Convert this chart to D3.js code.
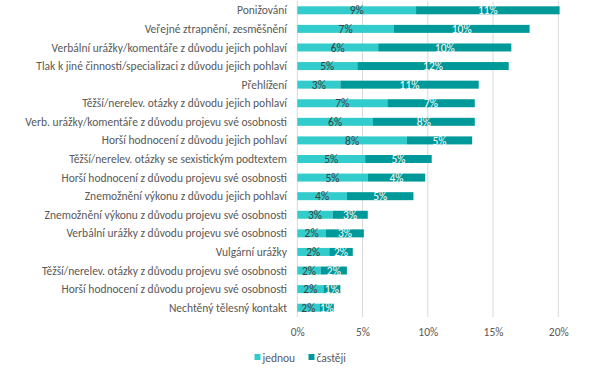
<!DOCTYPE html>
<html><head><meta charset="utf-8">
<script src="https://cdn.jsdelivr.net/npm/d3@7"></script>
<style>body{margin:0;background:#fff}svg{display:block}</style>
</head><body>
<svg id="c" width="598" height="368"></svg>
<script>
const categories = [
  "Ponižování",
  "Veřejné ztrapnění, zesměšnění",
  "Verbální urážky/komentáře z důvodu jejich pohlaví",
  "Tlak k jiné činnosti/specializaci z důvodu jejich pohlaví",
  "Přehlížení",
  "Těžší/nerelev. otázky z důvodu jejich pohlaví",
  "Verb. urážky/komentáře z důvodu projevu své osobnosti",
  "Horší hodnocení z důvodu jejich pohlaví",
  "Těžší/nerelev. otázky se sexistickým podtextem",
  "Horší hodnocení z důvodu projevu své osobnosti",
  "Znemožnění výkonu z důvodu jejich pohlaví",
  "Znemožnění výkonu z důvodu projevu své osobnosti",
  "Verbální urážky z důvodu projevu své osobnosti",
  "Vulgární urážky",
  "Těžší/nerelev. otázky z důvodu projevu své osobnosti",
  "Horší hodnocení z důvodu projevu své osobnosti",
  "Nechtěný tělesný kontakt"
];
const jednou  = [9.1, 7.4, 6.2, 4.6, 3.3, 6.9, 5.8, 8.4, 5.2, 5.4, 3.8, 2.7, 2.2, 2.45, 1.8, 2.0, 1.7];
const casteji = [11.0, 10.4, 10.2, 11.6, 10.6, 6.7, 7.8, 5.0, 5.1, 4.4, 5.1, 2.7, 2.9, 1.8, 2.0, 1.3, 1.1];
const seriesNames = ["jednou", "častěji"];
const xTicks = [0, 5, 10, 15, 20];

const colors = ["#33CCCC", "#009999"];
const font = "Calibri, Carlito, 'Open Sans', sans-serif";
const svg = d3.select("#c");

const x = d3.scaleLinear().domain([0, 20]).range([297.3, 558.3]);
const y = d3.scaleBand().domain(d3.range(categories.length)).range([1, 317]).paddingInner(0.57).paddingOuter(0.285);

// gridlines
svg.append("g").selectAll("line").data(xTicks).join("line")
  .attr("x1", d => x(d)).attr("x2", d => x(d))
  .attr("y1", 1).attr("y2", 317)
  .attr("stroke", "#D9D9D9").attr("stroke-width", 1);

// stacked data
const rows = categories.map((c, i) => ({i: i, cat: c, vals: [jednou[i], casteji[i]]}));
const g = svg.append("g");
rows.forEach(r => {
  let acc = 0;
  r.vals.forEach((v, s) => {
    const x0 = x(acc), x1 = x(acc + v);
    g.append("rect").attr("x", x0).attr("y", y(r.i)).attr("width", x1 - x0)
      .attr("height", y.bandwidth()).attr("fill", colors[s]);
    g.append("text").attr("x", (x0 + x1) / 2).attr("y", y(r.i) + y.bandwidth() / 2)
      .attr("dy", "0.36em").attr("text-anchor", "middle")
      .attr("font-family", font).attr("font-size", 11.5)
      .attr("fill", s === 0 ? "#404040" : "#FFFFFF")
      .text(Math.round(v) + "%");
    acc += v;
  });
});

// category labels
const labG = svg.append("g");
const labs = labG.selectAll("text").data(rows).join("text")
  .attr("x", 287).attr("y", d => y(d.i) + y.bandwidth() / 2).attr("dy", "0.35em")
  .attr("text-anchor", "end").attr("font-family", font).attr("font-size", 11)
  .attr("fill", "#595959").text(d => d.cat);
// fit font size so longest label ~262px
let maxW = 0;
labs.each(function(){ maxW = Math.max(maxW, this.getComputedTextLength()); });
const fs = 11 * 262 / maxW;
labs.attr("font-size", fs);

// x axis tick labels
const ax = d3.axisBottom(x).tickValues(xTicks).tickFormat(d => d + "%").tickSize(0).tickPadding(0);
const axG = svg.append("g").attr("transform", "translate(0,328)").call(ax);
axG.select(".domain").remove();
axG.selectAll("text").attr("font-family", font).attr("font-size", fs).attr("fill", "#595959")
  .attr("dy", "0.71em").attr("y", 0);

// legend
const leg = svg.append("g");
const legX = [254.5, 308.5];
seriesNames.forEach((n, i) => {
  leg.append("rect").attr("x", legX[i]).attr("y", 354).attr("width", 6).attr("height", 6).attr("fill", colors[i]);
  leg.append("text").attr("x", legX[i] + 8).attr("y", 357.5).attr("dy", "0.35em")
    .attr("font-family", font).attr("font-size", fs).attr("fill", "#595959").text(n);
});
</script>
</body></html>
